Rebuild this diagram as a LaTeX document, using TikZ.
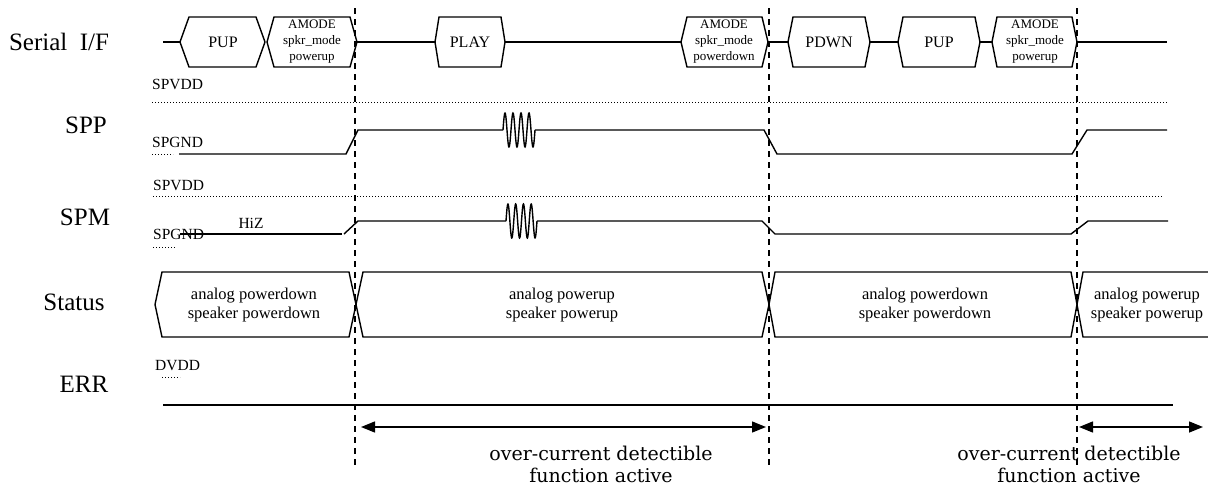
\documentclass[tikz,border=0pt]{standalone}
\usepackage{fontspec}
\setmainfont{Liberation Serif}
\newfontfamily\widefont{DejaVu Serif}
\usetikzlibrary{arrows.meta}
\newcommand\hexb[5]{\draw[bus] (#1,#4) -- ({#1+#3},{#4-#5}) -- ({#2-#3},{#4-#5}) -- (#2,#4) -- ({#2-#3},{#4+#5}) -- ({#1+#3},{#4+#5}) -- cycle;}
\begin{document}
\begin{tikzpicture}[x=1pt,y=-1pt,
  sig/.style={line width=1.4pt},
  bus/.style={line width=1.4pt, line join=miter},
  dotl/.style={line width=1pt, dash pattern=on 1pt off 2pt},
  vdash/.style={line width=1.3pt, dash pattern=on 6pt off 5pt},
  biglabel/.style={font=\fontsize{25}{29}\selectfont, inner sep=0},
  lvl/.style={font=\fontsize{15.5}{17}\selectfont, anchor=west, inner sep=0},
  busone/.style={font=\fontsize{16}{18}\selectfont, inner sep=0},
  busthree/.style={font=\fontsize{13}{16}\selectfont, align=center, inner sep=0},
  stat/.style={font=\fontsize{16.5}{19}\selectfont, align=center, inner sep=0},
  note/.style={font=\widefont\fontsize{19}{22}\selectfont, align=center, inner sep=0},
  arr/.style={line width=1.4pt, {Triangle[length=14pt,width=11pt]}-{Triangle[length=14pt,width=11pt]}}
]
\useasboundingbox (0,0) rectangle (1208,488);

% row labels
\node[biglabel] (lser) at (59,42) {Serial\ \ I/F};
\node[biglabel] (lspp) at (86,125) {SPP};
\node[biglabel] (lspm) at (85,217) {SPM};
\node[biglabel] (lstat) at (74,302) {Status};
\node[biglabel] (lerr) at (84,384) {ERR};

% Serial I/F
\draw[sig] (163,42) -- (180,42);
\hexb{180}{265}{9}{42}{25}
\node[busone] (pup1) at (223,42) {PUP};
\hexb{267}{357}{7}{42}{25}
\node[busthree] (amode1) at (312,42) {AMODE\\spkr\_mode\\powerup};
\draw[sig] (357,42) -- (435,42);
\hexb{435}{505}{4}{42}{25}
\node[busone] (play) at (470,42) {PLAY};
\draw[sig] (505,42) -- (681,42);
\hexb{681}{768}{6}{42}{25}
\node[busthree] (amode2) at (724,42) {AMODE\\spkr\_mode\\powerdown};
\draw[sig] (768,42) -- (788,42);
\hexb{788}{870}{5}{42}{25}
\node[busone] (pdwn) at (829,42) {PDWN};
\draw[sig] (870,42) -- (898,42);
\hexb{898}{980}{5}{42}{25}
\node[busone] (pup2) at (939,42) {PUP};
\draw[sig] (980,42) -- (992,42);
\hexb{992}{1077}{5}{42}{25}
\node[busthree] (amode3) at (1035,42) {AMODE\\spkr\_mode\\powerup};
\draw[sig] (1077,42) -- (1167,42);

% SPP
\node[lvl] (vdd1) at (152,84) {SPVDD};
\draw[dotl] (152,102) -- (1167,102);
\node[lvl] (gnd1) at (152,142) {SPGND};
\draw[dotl] (152,154) -- (173,154);
\draw[sig] (179,154) -- (346,154) -- (358,130) -- (503,130);
\draw[sig] plot[domain=0:32, samples=120] ({503+\x},{130-17*sin(\x*45)});
\draw[sig] (535,130) -- (764,130) -- (777,154) -- (1072,154) -- (1087,130) -- (1167,130);

% SPM
\node[lvl] (vdd2) at (153,185) {SPVDD};
\draw[dotl] (153,196) -- (1163,196);
\node[lvl] (gnd2) at (153,234) {SPGND};
\node[font=\fontsize{15.5}{17}\selectfont, inner sep=0] (hiz) at (251,223) {HiZ};
\draw[dotl] (153,247) -- (175,247);
\draw[sig] (180,234) -- (342,234);
\draw[sig] (344,234) -- (358,221) -- (506,221);
\draw[sig] plot[domain=0:31, samples=120] ({506+\x},{221-17*sin(\x*360/7.75)});
\draw[sig] (537,221) -- (762,221) -- (775,234) -- (1071,234) -- (1088,221) -- (1168,221);

% Status
\hexb{155}{356}{7}{304.5}{32.5}
\node[stat] (st1) at (254,305) {analog powerdown\\speaker powerdown};
\hexb{356}{769}{7}{304.5}{32.5}
\node[stat] (st2) at (562,305) {analog powerup\\speaker powerup};
\hexb{769}{1077}{6}{304.5}{32.5}
\node[stat] (st3) at (925,305) {analog powerdown\\speaker powerdown};
\draw[bus] (1208,272) -- (1083,272) -- (1077,304.5) -- (1083,337) -- (1208,337);
\node[stat] (st4) at (1147,305) {analog powerup\\speaker powerup};

% ERR
\node[lvl] (dvdd) at (155,366) {DVDD};
\draw[dotl, line width=0.8pt] (162,377) -- (180,377);
\draw[sig] (163,405) -- (1173,405);
\draw[line width=2pt] (984,405) -- (1022,405);

% dashed markers
\coordinate (d1t) at (355,8);   \coordinate (d1b) at (355,465);
\coordinate (d2t) at (769,8);   \coordinate (d2b) at (769,465);
\coordinate (d3t) at (1077,8);  \coordinate (d3b) at (1077,465);
\draw[vdash] (d1t) -- (d1b);
\draw[vdash] (d2t) -- (d2b);
\draw[vdash] (d3t) -- (d3b);

% arrows
\coordinate (a1) at (361,427); \coordinate (a2) at (766,427);
\coordinate (a3) at (1079,427); \coordinate (a4) at (1203,427);
\draw[arr] (a1) -- (a2);
\draw[arr] (a3) -- (a4);
\node[note] (n1) at (601,464) {over-current detectible\\function active};
\node[note] (n2) at (1069,464) {over-current detectible\\function active};
\end{tikzpicture}
\end{document}
